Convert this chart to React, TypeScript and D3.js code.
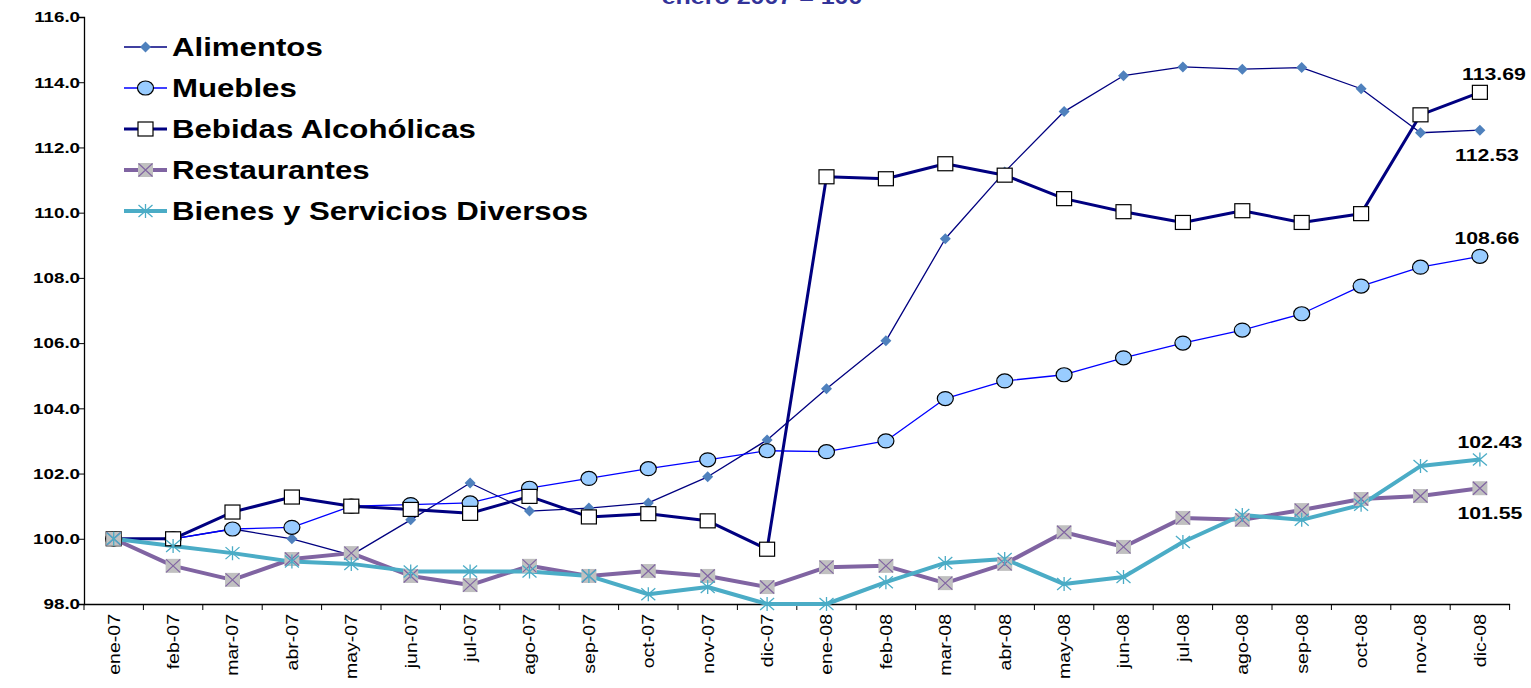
import { useEffect, useRef } from "react";
import * as d3 from "d3";

const months = [
  "ene-07", "feb-07", "mar-07", "abr-07", "may-07", "jun-07", "jul-07", "ago-07",
  "sep-07", "oct-07", "nov-07", "dic-07", "ene-08", "feb-08", "mar-08", "abr-08",
  "may-08", "jun-08", "jul-08", "ago-08", "sep-08", "oct-08", "nov-08", "dic-08",
];

const alimentos = [
  100.0, 100.0, 100.3, 100.0, 99.5, 100.58, 101.71, 100.85, 100.94, 101.1, 101.9, 103.03,
  104.6, 106.07, 109.2, 111.25, 113.1, 114.2, 114.47, 114.4, 114.45, 113.8, 112.45, 112.53,
];
const muebles = [
  100.0, 100.0, 100.3, 100.35, 101.0, 101.05, 101.1, 101.55, 101.85, 102.15, 102.42, 102.7,
  102.67, 103.0, 104.3, 104.84, 105.03, 105.55, 106.0, 106.4, 106.9, 107.75, 108.33, 108.66,
];
const bebidas = [
  100.0, 100.0, 100.82, 101.28, 101.0, 100.9, 100.78, 101.3, 100.67, 100.77, 100.55, 99.68,
  111.1, 111.04, 111.5, 111.15, 110.43, 110.03, 109.7, 110.06, 109.7, 109.97, 113.0, 113.69,
];
const restaurantes = [
  100.0, 99.17, 98.74, 99.38, 99.56, 98.86, 98.58, 99.17, 98.86, 99.01, 98.86, 98.52,
  99.13, 99.17, 98.64, 99.23, 100.2, 99.75, 100.64, 100.58, 100.88, 101.22, 101.31, 101.55,
];
const bienes = [
  100.0, 99.78, 99.56, 99.3, 99.23, 99.0, 99.0, 99.0, 98.86, 98.3, 98.52, 98.0,
  98.0, 98.67, 99.26, 99.38, 98.61, 98.83, 99.9, 100.73, 100.58, 101.04, 102.23, 102.43,
];

const yTicks = [98, 100, 102, 104, 106, 108, 110, 112, 114, 116];

type Marker = "diamond" | "circle" | "square" | "xbox" | "star";

const series: { name: string; values: number[]; color: string; width: number; marker: Marker }[] = [
  { name: "Alimentos", values: alimentos, color: "#000080", width: 1.3, marker: "diamond" },
  { name: "Muebles", values: muebles, color: "#0000FF", width: 1.3, marker: "circle" },
  { name: "Bebidas Alcohólicas", values: bebidas, color: "#000080", width: 3, marker: "square" },
  { name: "Restaurantes", values: restaurantes, color: "#8064A2", width: 4, marker: "xbox" },
  { name: "Bienes y Servicios Diversos", values: bienes, color: "#4BACC6", width: 4, marker: "star" },
];

const W = 1531;
const H = 688;
const left = 84;
const right = 1509.6;
const top = 17;
const bottom = 604;
const font = "'Liberation Sans', Arial, sans-serif";
// the reference text is drawn a bit wider than plain Arial
const sx = 1.25;

function drawMarker(g: d3.Selection<SVGGElement, unknown, null, undefined>, kind: Marker, x: number, y: number) {
  if (kind === "diamond") {
    g.append("path")
      .attr("d", `M${x},${y - 5.5}L${x + 5.5},${y}L${x},${y + 5.5}L${x - 5.5},${y}Z`)
      .attr("fill", "#4F81BD");
  } else if (kind === "circle") {
    g.append("ellipse").attr("cx", x).attr("cy", y).attr("rx", 8).attr("ry", 7)
      .attr("fill", "#99CCFF").attr("stroke", "#000").attr("stroke-width", 1.2);
  } else if (kind === "square") {
    g.append("rect").attr("x", x - 7.5).attr("y", y - 7).attr("width", 15).attr("height", 14)
      .attr("fill", "#fff").attr("stroke", "#000").attr("stroke-width", 1.2);
  } else if (kind === "xbox") {
    g.append("rect").attr("x", x - 7.5).attr("y", y - 7).attr("width", 15).attr("height", 14)
      .attr("fill", "#C0C0C0");
    g.append("path")
      .attr("d", `M${x - 7},${y - 6.5}L${x + 7},${y + 6.5}M${x + 7},${y - 6.5}L${x - 7},${y + 6.5}`)
      .attr("stroke", "#8064A2").attr("stroke-width", 1.2);
  } else {
    g.append("path")
      .attr("d", `M${x},${y - 7}L${x},${y + 7}M${x - 7},${y - 6}L${x + 7},${y + 6}M${x + 7},${y - 6}L${x - 7},${y + 6}`)
      .attr("stroke", "#4BACC6").attr("stroke-width", 1.3);
  }
}

export default function App() {
  const ref = useRef<SVGSVGElement>(null);

  useEffect(() => {
    if (!ref.current) return;
    const svg = d3.select(ref.current);
    svg.selectAll("*").remove();

    const x = d3.scaleBand().domain(months).range([left, right]);
    const y = d3.scaleLinear().domain([98, 116]).range([bottom, top]);
    const cx = (m: string) => (x(m) ?? 0) + x.bandwidth() / 2;

    svg.append("rect").attr("width", W).attr("height", H).attr("fill", "#fff");

    // title, cut at top like in the reference
    svg.append("text").attr("transform", `translate(762,4) scale(${sx},1)`).attr("text-anchor", "middle")
      .attr("font-family", font).attr("font-weight", "bold").attr("font-size", 20)
      .attr("fill", "#333399").text("enero 2007 = 100");

    // y axis
    const ya = svg.append("g").attr("transform", `translate(${left},0)`)
      .call(d3.axisLeft(y).tickValues(yTicks).tickSize(5).tickFormat(d3.format(".1f")));
    ya.select(".domain").attr("stroke", "#000").attr("stroke-width", 1.3);
    ya.selectAll(".tick line").attr("stroke", "#000");
    ya.selectAll(".tick text").attr("font-family", font).attr("font-weight", "bold")
      .attr("font-size", 15).attr("fill", "#000").attr("x", -4 / sx)
      .attr("transform", `scale(${sx},1)`);

    // x axis
    const xa = svg.append("g").attr("transform", `translate(0,${bottom})`)
      .call(d3.axisBottom(x).tickSize(0));
    xa.select(".domain").attr("stroke", "#000").attr("stroke-width", 1.3);
    const sxx = 1.15;
    xa.selectAll(".tick text").attr("font-family", font).attr("font-size", 17).attr("fill", "#000")
      .attr("transform", `rotate(-90) scale(${sxx},1)`).attr("text-anchor", "end")
      .attr("x", -10 / sxx).attr("y", 0).attr("dy", "0.35em");
    const bounds = months.map((m) => x(m) ?? 0).concat([right]);
    svg.append("g").selectAll("line").data(bounds).join("line")
      .attr("x1", (d) => d).attr("x2", (d) => d).attr("y1", bottom).attr("y2", bottom + 6)
      .attr("stroke", "#000");

    // lines
    const line = d3.line<number>().x((_, i) => cx(months[i])).y((d) => y(d));
    series.forEach((s) => {
      svg.append("path").datum(s.values).attr("d", line).attr("fill", "none")
        .attr("stroke", s.color).attr("stroke-width", s.width).attr("stroke-linejoin", "round");
    });
    series.forEach((s) => {
      const g = svg.append("g");
      s.values.forEach((v, i) => drawMarker(g, s.marker, cx(months[i]), y(v)));
    });

    // end labels
    const last = months[months.length - 1];
    const lx = cx(last);
    const labels = [
      { v: bebidas[23], dy: -12, dx: 14 },
      { v: alimentos[23], dy: 31, dx: 7 },
      { v: muebles[23], dy: -12, dx: 7 },
      { v: bienes[23], dy: -12, dx: 10 },
      { v: restaurantes[23], dy: 31, dx: 10 },
    ];
    labels.forEach((l) => {
      svg.append("text").attr("transform", `translate(${lx + l.dx},${y(l.v) + l.dy}) scale(${sx},1)`)
        .attr("text-anchor", "middle")
        .attr("font-family", font).attr("font-weight", "bold").attr("font-size", 17)
        .attr("fill", "#000").text(l.v.toFixed(2));
    });

    // legend
    const lg = svg.append("g");
    series.forEach((s, i) => {
      const ly = 47 + i * 41;
      lg.append("line").attr("x1", 124).attr("x2", 167).attr("y1", ly).attr("y2", ly)
        .attr("stroke", s.color).attr("stroke-width", s.width);
      drawMarker(lg, s.marker, 145.5, ly);
      lg.append("text").attr("transform", `translate(172,${ly}) scale(1.2,1)`).attr("dy", "0.35em")
        .attr("font-family", font).attr("font-weight", "bold").attr("font-size", 26)
        .attr("fill", "#000").text(s.name);
    });
  }, []);

  return (
    <svg ref={ref} width={W} height={H} viewBox={`0 0 ${W} ${H}`}
      style={{ position: "absolute", left: 0, top: 0, display: "block" }} />
  );
}
